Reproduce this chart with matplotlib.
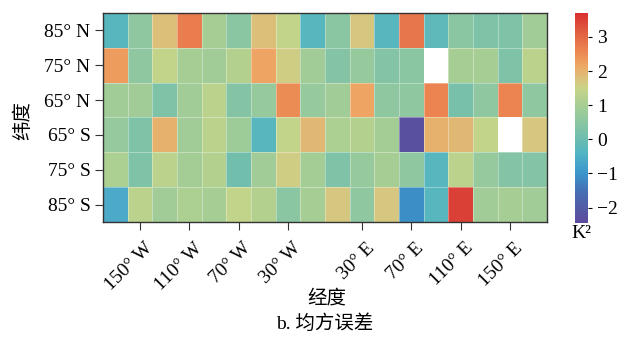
import numpy as np
import matplotlib
matplotlib.use("Agg")
import matplotlib.pyplot as plt
import matplotlib.transforms as mtransforms
from matplotlib.colors import LinearSegmentedColormap, Normalize

plt.rcParams['font.family'] = ['Liberation Serif', 'Noto Sans CJK SC']

# rows top to bottom
lat_labels = ["85° N", "75° N", "65° N", "65° S", "75° S", "85° S"]
lon_ticks = ["150° W", "110° W", "70° W", "30° W", "30° E", "70° E", "110° E", "150° E"]
lon_tick_cols = [1, 3, 5, 7, 10, 12, 14, 16]

nan = np.nan
row_85n = [-0.3, 0.6, 1.8, 2.7, 1.0, 0.5, 1.8, 1.4, -0.3, 0.5, 1.7, -0.3, 2.8, -0.2, 0.5, 0.3, 0.3, 0.9]
row_75n = [2.3, 0.6, 1.4, 1.0, 0.9, 1.2, 2.2, 1.6, 0.9, 0.4, 0.7, 0.4, 0.5, nan, 1.0, 1.0, 0.3, 1.3]
row_65n = [0.9, 0.9, 0.3, 0.9, 1.3, 0.4, 0.7, 2.5, 0.7, 0.9, 2.2, 0.6, 0.6, 2.6, 0.2, 0.6, 2.6, 0.6]
row_65s = [0.7, 0.3, 2.0, 0.9, 1.3, 0.85, -0.3, 1.4, 1.9, 1.1, 1.2, 0.95, -2.3, 2.0, 1.9, 1.4, nan, 1.7]
row_75s = [1.1, 0.3, 1.3, 0.95, 1.2, 0.1, 0.9, 1.6, 0.95, 0.3, 0.7, 1.0, 0.6, -0.3, 1.3, 0.7, 0.4, 0.4]
row_85s = [-0.6, 1.3, 0.9, 1.1, 1.0, 1.4, 1.2, 0.5, 1.0, 1.7, 0.6, 1.7, -1.1, -0.3, 3.5, 0.9, 1.0, 0.9]

vmin, vmax = -2.45, 3.7

# colour stops
stop_vals = [-2.45, -1.5, -1.0, -0.4, 0.0, 0.5, 1.0, 1.5, 1.8, 2.2, 2.7, 3.2, 3.7]
stop_cols = ["#5e4a9c", "#4670b4", "#3a96cc", "#52b4c4", "#6cbcb0", "#8ac6a2", "#a6ce94",
             "#c8d488", "#dcc07a", "#eea462", "#ea7e4e", "#e05a40", "#d83030"]
pos = [(v - vmin) / (vmax - vmin) for v in stop_vals]
cmap = LinearSegmentedColormap.from_list("mse", list(zip(pos, stop_cols)))
cmap.set_bad("white")

data = np.ma.masked_invalid(np.array([row_85n, row_75n, row_65n, row_65s, row_75s, row_85s]))

fig = plt.figure(figsize=(6.32, 3.40), dpi=100)
ax = fig.add_axes([103/632, 1-222/340, 444/632, 209/340])
mesh = ax.pcolormesh(data, cmap=cmap, norm=Normalize(vmin, vmax),
                     edgecolors=(1, 1, 1, 0.35), linewidth=0.6)
ax.set_xlim(0, data.shape[1])
ax.set_ylim(data.shape[0], 0)

ax.set_yticks(np.arange(len(lat_labels)) + 0.5)
ax.set_yticklabels(lat_labels, fontsize=14)
ax.set_xticks(np.array(lon_tick_cols) + 0.5)
ax.set_xticklabels(lon_ticks, fontsize=14, rotation=45, ha='right', va='top',
                   rotation_mode='anchor')
ax.tick_params(length=6, width=0.8, color='#333333', pad=3)
# nudge rotated labels a little right and down
shift = mtransforms.ScaledTranslation(4/100, -5/100, fig.dpi_scale_trans)
for lab in ax.get_xticklabels():
    lab.set_transform(lab.get_transform() + shift)
for s in ax.spines.values():
    s.set_color('#333333')
    s.set_linewidth(1.0)

fig.text(327/632, 1-298/340, "经度", fontsize=14, ha='center', va='center')
fig.text(23/632, 1-120/340, "纬度", fontsize=14, ha='center', va='center', rotation=90)
fig.text(325/632, 1-324/340, "b. 均方误差", fontsize=14, ha='center', va='center')

cax = fig.add_axes([575/632, 1-223/340, 13/632, 210/340])
cb = fig.colorbar(mesh, cax=cax, ticks=[-2, -1, 0, 1, 2, 3])
cb.outline.set_visible(False)
cb.ax.tick_params(labelsize=14, length=3, width=0.8)
cax.text(0.5, -0.01, "K²", transform=cax.transAxes, ha='center', va='top', fontsize=14)

fig.savefig("out.png", dpi=100)
